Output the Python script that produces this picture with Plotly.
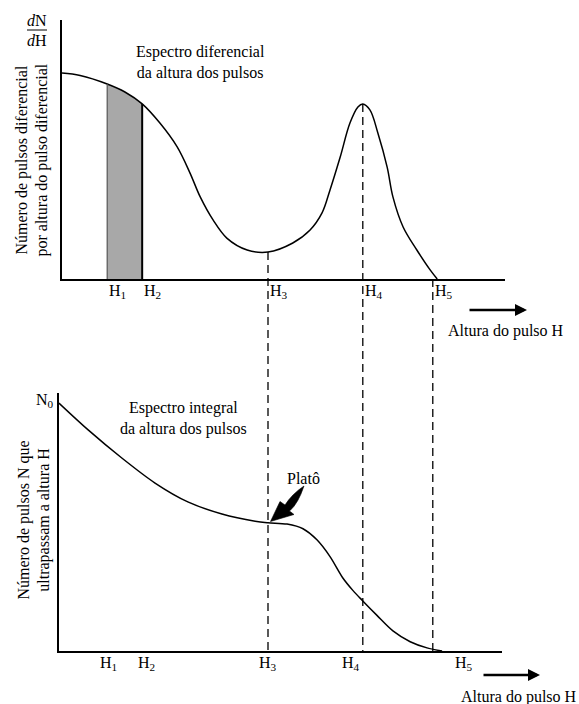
import numpy as np
import plotly.graph_objects as go

W, H = 579, 704
FONT = "Liberation Serif"

# Differential pulse-height spectrum (top panel)
diff_x = [0.00, 0.41, 1.02, 1.42, 1.81, 2.21, 2.60, 2.89, 3.12, 3.41, 3.72, 4.18,
          4.65, 5.21, 5.60, 5.87, 6.05, 6.28, 6.50, 6.68, 6.79, 6.95, 7.13, 7.34,
          7.47, 7.70, 8.01, 8.31, 8.47]
diff_y = [0.795, 0.786, 0.753, 0.722, 0.676, 0.602, 0.510, 0.409, 0.317, 0.228,
          0.158, 0.112, 0.104, 0.139, 0.189, 0.255, 0.344, 0.471, 0.602, 0.664,
          0.676, 0.653, 0.564, 0.432, 0.317, 0.201, 0.112, 0.035, 0.000]

# Integral pulse-height spectrum (bottom panel)
int_x = [-0.07, 0.59, 1.35, 2.10, 2.84, 3.61, 4.36, 4.65, 5.08, 5.44, 5.76, 6.05,
         6.34, 6.57, 6.79, 7.11, 7.47, 7.86, 8.24, 8.58]
int_y = [0.961, 0.857, 0.748, 0.651, 0.578, 0.531, 0.503, 0.497, 0.492, 0.474,
         0.430, 0.366, 0.283, 0.234, 0.194, 0.138, 0.078, 0.036, 0.012, 0.000]

# Pulse-height markers H1..H5
h_names = ["H<sub>1</sub>", "H<sub>2</sub>", "H<sub>3</sub>", "H<sub>4</sub>", "H<sub>5</sub>"]
h_pos = [1.02, 1.81, 4.65, 6.79, 8.37]
h_bottom_label_pos = [1.06, 1.90, 4.65, 6.52, 9.07]

# axis geometry
top_xdom = [62 / W, 505 / W]
top_ydom = [1 - 279 / H, 1 - 20 / H]
bot_xdom = [59 / W, 502 / W]
bot_ydom = [1 - 651 / H, 1 - 393 / H]
x_range_top = [0, 10]
shift = 3 / 44.3
x_range_bot = [-shift, 10 - shift]


def top_paper(v):
    return top_ydom[0] + v * (top_ydom[1] - top_ydom[0])


def bot_paper(v):
    return bot_ydom[0] + v * (bot_ydom[1] - bot_ydom[0])


def px(xp, yp):
    return f"{xp / W:.5f},{1 - yp / H:.5f}"


fig = go.Figure()

# shaded band between H1 and H2
i1, i2 = diff_x.index(h_pos[0]), diff_x.index(h_pos[1])
fig.add_trace(go.Scatter(
    x=diff_x[i1:i2 + 1], y=diff_y[i1:i2 + 1], mode="lines",
    line=dict(width=0, shape="spline"), fill="tozeroy",
    fillcolor="#a8a8a8", xaxis="x", yaxis="y", hoverinfo="skip"))

fig.add_trace(go.Scatter(
    x=diff_x, y=diff_y, mode="lines",
    line=dict(color="black", width=1.5, shape="spline", smoothing=1.0),
    xaxis="x", yaxis="y", hoverinfo="skip"))

fig.add_trace(go.Scatter(
    x=int_x, y=int_y, mode="lines",
    line=dict(color="black", width=1.5, shape="spline", smoothing=0.9),
    xaxis="x2", yaxis="y2", hoverinfo="skip"))

shapes = []
# band edges
v1 = float(np.interp(h_pos[0], diff_x, diff_y))
v2 = float(np.interp(h_pos[1], diff_x, diff_y))
shapes.append(dict(type="line", xref="x", yref="y", x0=h_pos[0], x1=h_pos[0],
                   y0=0, y1=v1, line=dict(color="#555555", width=1.2)))
shapes.append(dict(type="line", xref="x", yref="y", x0=h_pos[1], x1=h_pos[1],
                   y0=0, y1=v2, line=dict(color="black", width=2)))

# dashed guides from the top spectrum down to the bottom axis
for hx, start in [(h_pos[2], float(np.interp(h_pos[2], diff_x, diff_y))),
                  (h_pos[3], float(np.interp(h_pos[3], diff_x, diff_y))),
                  (h_pos[4], 0.0)]:
    shapes.append(dict(type="line", xref="x", yref="paper", x0=hx, x1=hx,
                       y0=top_paper(start), y1=bot_paper(0),
                       line=dict(color="black", width=1.3, dash="8px,5px")))

# dN/dH fraction bar
shapes.append(dict(type="line", xref="paper", yref="paper",
                   x0=27 / W, x1=47 / W, y0=1 - 30 / H, y1=1 - 30 / H,
                   line=dict(color="black", width=1)))

# curved "Platô" pointer
plateau_path = ("M " + px(270.5, 521.5) + " L " + px(280, 501.5) + " L " + px(285, 505)
                + " Q " + px(292, 494) + " " + px(304, 486)
                + " Q " + px(298, 504) + " " + px(289.5, 511)
                + " L " + px(294, 514.5) + " Z")
shapes.append(dict(type="path", xref="paper", yref="paper", path=plateau_path,
                   fillcolor="black", line=dict(color="black", width=0.6)))

ann = []
tf = dict(family=FONT, size=16, color="black")

for name, hx in zip(h_names, h_pos):
    ann.append(dict(x=hx, y=1 - 280 / H, xref="x", yref="paper", text=name,
                    showarrow=False, xanchor="left", yanchor="top", xshift=0, font=tf))
for name, hx in zip(h_names, h_bottom_label_pos):
    ann.append(dict(x=hx, y=1 - 652 / H, xref="x", yref="paper", text=name,
                    showarrow=False, xanchor="center", yanchor="top", font=tf))

ann += [
    dict(x=200 / W, y=1 - 62 / H, xref="paper", yref="paper",
         text="Espectro diferencial<br>da altura dos pulsos", showarrow=False,
         xanchor="center", yanchor="middle", font=tf),
    dict(x=183 / W, y=1 - 418 / H, xref="paper", yref="paper",
         text="Espectro integral<br>da altura dos pulsos", showarrow=False,
         xanchor="center", yanchor="middle", font=tf),
    dict(x=31.5 / W, y=1 - 160 / H, xref="paper", yref="paper",
         text="Número de pulsos diferencial<br>por altura do pulso diferencial",
         showarrow=False, textangle=-90, xanchor="center", yanchor="middle", font=tf),
    dict(x=33.5 / W, y=1 - 520 / H, xref="paper", yref="paper",
         text="Número de pulsos N que<br>ultrapassam a altura H",
         showarrow=False, textangle=-90, xanchor="center", yanchor="middle", font=tf),
    dict(x=37 / W, y=1 - 20 / H, xref="paper", yref="paper", text="<i>d</i>N",
         showarrow=False, xanchor="center", yanchor="middle", font=tf),
    dict(x=37 / W, y=1 - 41 / H, xref="paper", yref="paper", text="<i>d</i>H",
         showarrow=False, xanchor="center", yanchor="middle", font=tf),
    dict(x=56 / W, y=1 - 400 / H, xref="paper", yref="paper", text="N<sub>0</sub>",
         showarrow=False, xanchor="right", yanchor="middle", font=tf),
    dict(x=303 / W, y=1 - 478 / H, xref="paper", yref="paper", text="Platô",
         showarrow=False, xanchor="center", yanchor="middle", font=tf),
    dict(x=506 / W, y=1 - 331 / H, xref="paper", yref="paper", text="Altura do pulso H",
         showarrow=False, xanchor="center", yanchor="middle", font=tf),
    dict(x=579 / W, y=1 - 697 / H, xref="paper", yref="paper", text="Altura do pulso H",
         showarrow=False, xanchor="right", yanchor="middle", font=tf),
    # direction arrows
    dict(x=527 / W, y=1 - 310 / H, xref="paper", yref="paper", text="",
         showarrow=True, ax=-59, ay=0, arrowhead=2, arrowsize=1.0, arrowwidth=2.4,
         arrowcolor="black"),
    dict(x=540 / W, y=1 - 675 / H, xref="paper", yref="paper", text="",
         showarrow=True, ax=-58, ay=0, arrowhead=2, arrowsize=1.0, arrowwidth=2.4,
         arrowcolor="black"),
]

axis_common = dict(showline=True, linecolor="black", linewidth=1.5, showgrid=False,
                   zeroline=False, showticklabels=False, ticks="", fixedrange=True)

fig.update_layout(
    width=W, height=H, margin=dict(l=0, r=0, t=0, b=0),
    paper_bgcolor="white", plot_bgcolor="white", showlegend=False,
    xaxis=dict(domain=top_xdom, range=x_range_top, anchor="y", **axis_common),
    yaxis=dict(domain=top_ydom, range=[0, 1], anchor="x", **axis_common),
    xaxis2=dict(domain=bot_xdom, range=x_range_bot, anchor="y2", **axis_common),
    yaxis2=dict(domain=bot_ydom, range=[0, 1], anchor="x2", **axis_common),
    shapes=shapes, annotations=ann,
)

fig.write_html("out.html")
